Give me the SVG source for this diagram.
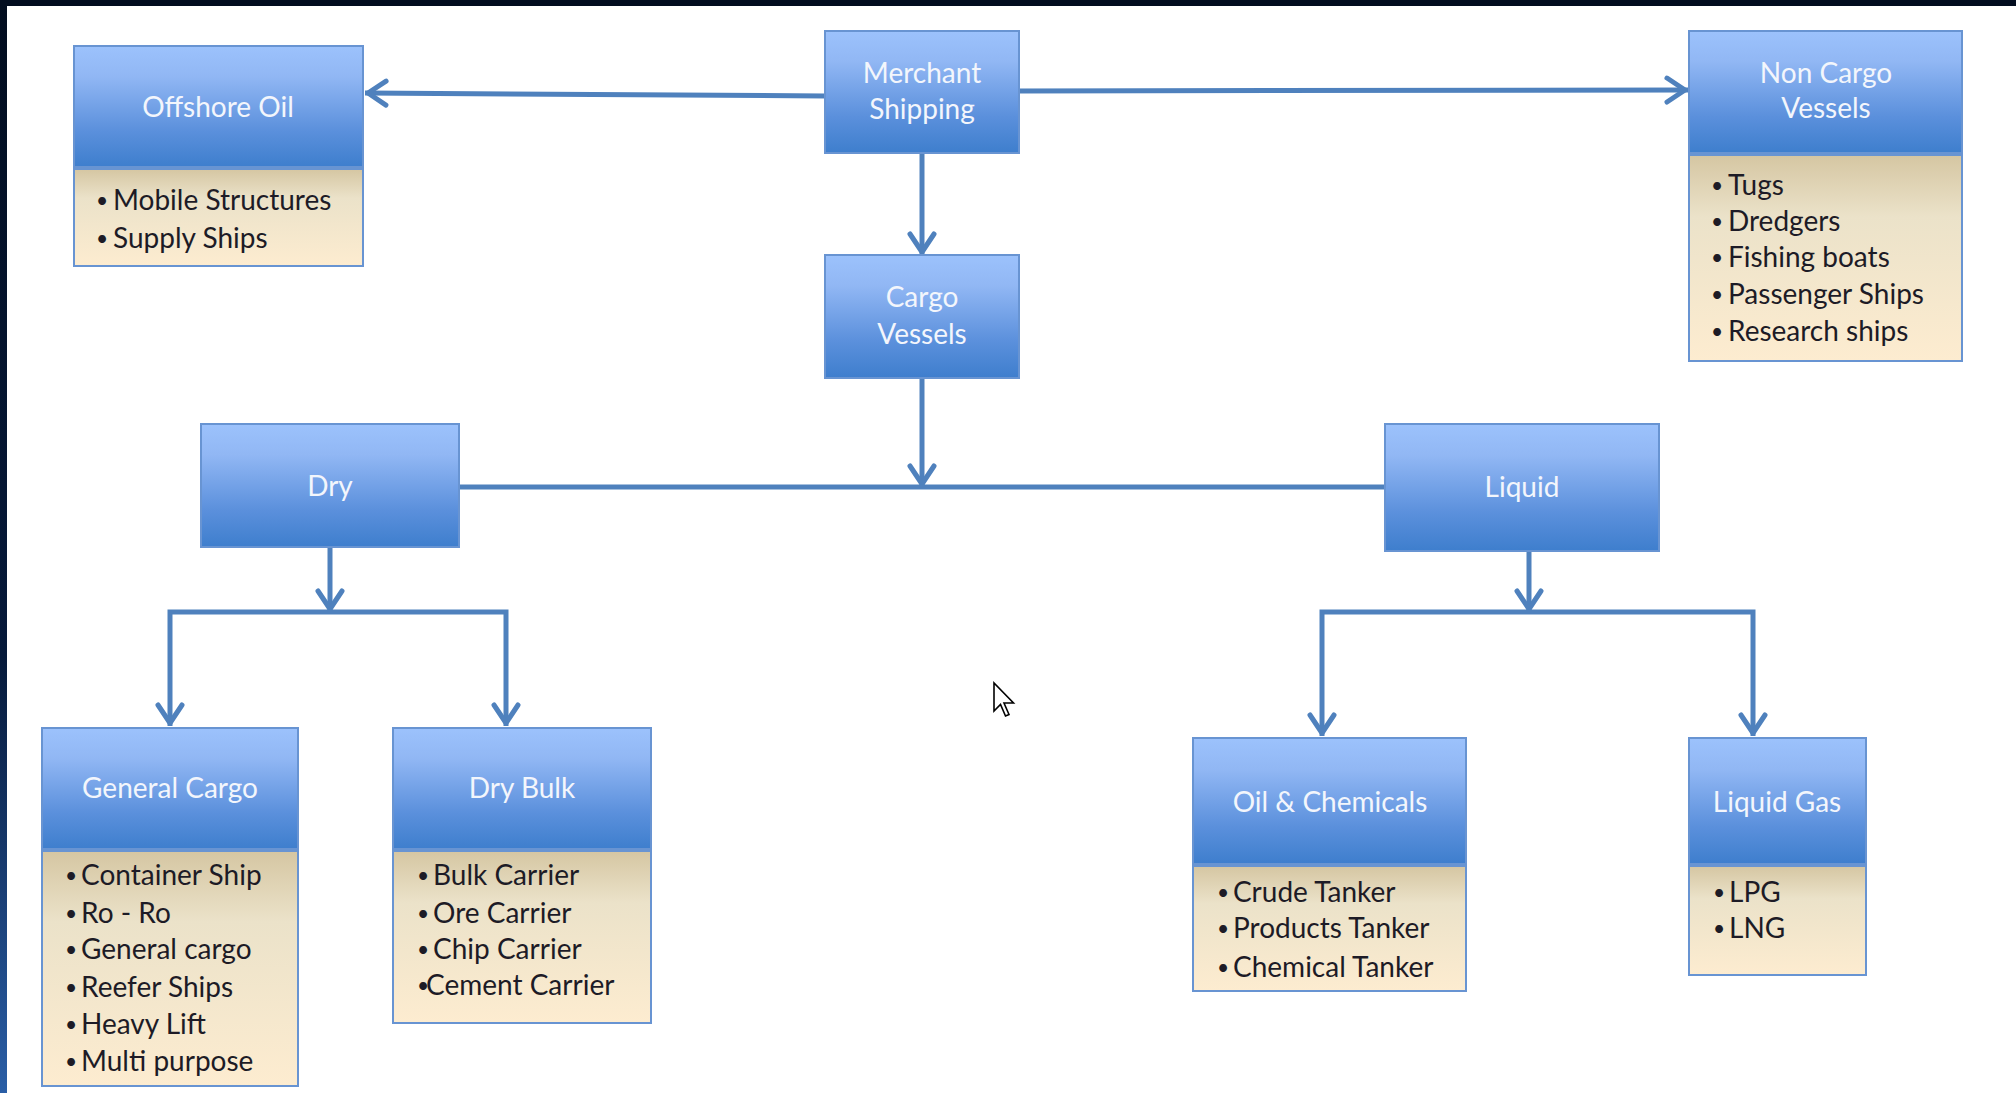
<svg xmlns="http://www.w3.org/2000/svg" width="2016" height="1093" viewBox="0 0 2016 1093">
<style>
.hd{fill:url(#gHead);stroke:#6894d2;stroke-width:2}
.bd{fill:url(#gBody);stroke:#6894d2;stroke-width:2}
.ht{font-family:Lato,"Liberation Sans",sans-serif;font-size:28px;fill:#f3f6fc;text-anchor:middle}
.bt{font-family:Lato,"Liberation Sans",sans-serif;font-size:28px;fill:#1d1b26}
.bu{font-size:21px}
.cn{fill:none;stroke:#4f81bd;stroke-width:5;stroke-linejoin:miter}
.ar{marker-end:url(#arr)}
</style>
<defs>
<linearGradient id="gHead" x1="0" y1="0" x2="0" y2="1">
<stop offset="0" stop-color="#9cc2fc"/>
<stop offset="0.25" stop-color="#91b7f4"/>
<stop offset="0.7" stop-color="#5b90dc"/>
<stop offset="1" stop-color="#3e7ecd"/>
</linearGradient>
<linearGradient id="gBody" x1="0" y1="0" x2="0" y2="1">
<stop offset="0" stop-color="#d5c6a2"/>
<stop offset="0.3" stop-color="#ebe2c9"/>
<stop offset="1" stop-color="#fdecd0"/>
</linearGradient>
<linearGradient id="gEdge" x1="0" y1="0" x2="0" y2="1">
<stop offset="0" stop-color="#020d1f"/>
<stop offset="0.6" stop-color="#06193a"/>
<stop offset="1" stop-color="#2a5ea6"/>
</linearGradient>
<marker id="arr" markerUnits="userSpaceOnUse" viewBox="-30 -20 40 40" markerWidth="40" markerHeight="40" refX="0" refY="0" orient="auto">
<path d="M-21 -12 L-3 0 L-21 12" fill="none" stroke="#4f81bd" stroke-width="5" stroke-linecap="round" stroke-linejoin="round"/>
</marker>
</defs>
<rect x="0" y="0" width="2016" height="1093" fill="#ffffff"/>
<rect x="0" y="0" width="2016" height="6" fill="#020d1f"/>
<rect x="0" y="0" width="7" height="1093" fill="url(#gEdge)"/>

<g id="connectors">
<path class="cn ar" d="M825 96 L365 93"/>
<path class="cn ar" d="M1019 91 L1688 90"/>
<path class="cn ar" d="M922 153 L922 255"/>
<path class="cn ar" d="M922 378 L922 487"/>
<path class="cn" d="M459 487 L1385 487"/>
<path class="cn ar" d="M330 547 L330 612"/>
<path class="cn ar" d="M330 612 L170 612 L170 726"/>
<path class="cn ar" d="M330 612 L506 612 L506 726"/>
<path class="cn ar" d="M1529 551 L1529 612"/>
<path class="cn ar" d="M1529 612 L1322 612 L1322 736"/>
<path class="cn ar" d="M1529 612 L1753 612 L1753 736"/>
</g>

<g id="offshore-oil">
<rect class="hd" x="74" y="46" width="289" height="121"/>
<rect class="bd" x="74" y="169" width="289" height="97"/>
<text class="ht" x="218" y="117">Offshore Oil</text>
<text class="bt"><tspan class="bu" x="96" y="208">•</tspan><tspan x="113" y="210">Mobile Structures</tspan><tspan class="bu" x="96" y="246">•</tspan><tspan x="113" y="248">Supply Ships</tspan></text>
</g>

<g id="merchant-shipping">
<rect class="hd" x="825" y="31" width="194" height="122"/>
<text class="ht"><tspan x="922" y="83">Merchant</tspan><tspan x="922" y="119">Shipping</tspan></text>
</g>

<g id="non-cargo-vessels">
<rect class="hd" x="1689" y="31" width="273" height="122"/>
<rect class="bd" x="1689" y="155" width="273" height="206"/>
<text class="ht"><tspan x="1826" y="83">Non Cargo</tspan><tspan x="1826" y="118">Vessels</tspan></text>
<text class="bt"><tspan class="bu" x="1711" y="193">•</tspan><tspan x="1728" y="195">Tugs</tspan><tspan class="bu" x="1711" y="229">•</tspan><tspan x="1728" y="231">Dredgers</tspan><tspan class="bu" x="1711" y="265">•</tspan><tspan x="1728" y="267">Fishing boats</tspan><tspan class="bu" x="1711" y="302">•</tspan><tspan x="1728" y="304">Passenger Ships</tspan><tspan class="bu" x="1711" y="339">•</tspan><tspan x="1728" y="341">Research ships</tspan></text>
</g>

<g id="cargo-vessels">
<rect class="hd" x="825" y="255" width="194" height="123"/>
<text class="ht"><tspan x="922" y="307">Cargo</tspan><tspan x="922" y="344">Vessels</tspan></text>
</g>

<g id="dry">
<rect class="hd" x="201" y="424" width="258" height="123"/>
<text class="ht" x="330" y="496">Dry</text>
</g>

<g id="liquid">
<rect class="hd" x="1385" y="424" width="274" height="127"/>
<text class="ht" x="1522" y="497">Liquid</text>
</g>

<g id="general-cargo">
<rect class="hd" x="42" y="728" width="256" height="121"/>
<rect class="bd" x="42" y="851" width="256" height="235"/>
<text class="ht" x="170" y="798">General Cargo</text>
<text class="bt"><tspan class="bu" x="65" y="883">•</tspan><tspan x="81" y="885">Container Ship</tspan><tspan class="bu" x="65" y="921">•</tspan><tspan x="81" y="923">Ro - Ro</tspan><tspan class="bu" x="65" y="957">•</tspan><tspan x="81" y="959">General cargo</tspan><tspan class="bu" x="65" y="995">•</tspan><tspan x="81" y="997">Reefer Ships</tspan><tspan class="bu" x="65" y="1032">•</tspan><tspan x="81" y="1034">Heavy Lift</tspan><tspan class="bu" x="65" y="1069">•</tspan><tspan x="81" y="1071">Multi purpose</tspan></text>
</g>

<g id="dry-bulk">
<rect class="hd" x="393" y="728" width="258" height="121"/>
<rect class="bd" x="393" y="851" width="258" height="172"/>
<text class="ht" x="522" y="798">Dry Bulk</text>
<text class="bt"><tspan class="bu" x="417" y="883">•</tspan><tspan x="433" y="885">Bulk Carrier</tspan><tspan class="bu" x="417" y="921">•</tspan><tspan x="433" y="923">Ore Carrier</tspan><tspan class="bu" x="417" y="957">•</tspan><tspan x="433" y="959">Chip Carrier</tspan><tspan class="bu" x="417" y="993">•</tspan><tspan x="426" y="995">Cement Carrier</tspan></text>
</g>

<g id="oil-chemicals">
<rect class="hd" x="1193" y="738" width="273" height="126"/>
<rect class="bd" x="1193" y="866" width="273" height="125"/>
<text class="ht" x="1330" y="812">Oil &amp; Chemicals</text>
<text class="bt"><tspan class="bu" x="1217" y="900">•</tspan><tspan x="1233" y="902">Crude Tanker</tspan><tspan class="bu" x="1217" y="936">•</tspan><tspan x="1233" y="938">Products Tanker</tspan><tspan class="bu" x="1217" y="975">•</tspan><tspan x="1233" y="977">Chemical Tanker</tspan></text>
</g>

<g id="liquid-gas">
<rect class="hd" x="1689" y="738" width="177" height="126"/>
<rect class="bd" x="1689" y="866" width="177" height="109"/>
<text class="ht" x="1777" y="812">Liquid Gas</text>
<text class="bt"><tspan class="bu" x="1713" y="900">•</tspan><tspan x="1729" y="902">LPG</tspan><tspan class="bu" x="1713" y="936">•</tspan><tspan x="1729" y="938">LNG</tspan></text>
</g>

<path d="M994 683 L994 711 L1000.5 704.5 L1005.5 716 L1009 714.5 L1004 703 L1013.5 703 Z" fill="#ffffff" stroke="#000000" stroke-width="1.6" stroke-linejoin="miter"/>
</svg>
